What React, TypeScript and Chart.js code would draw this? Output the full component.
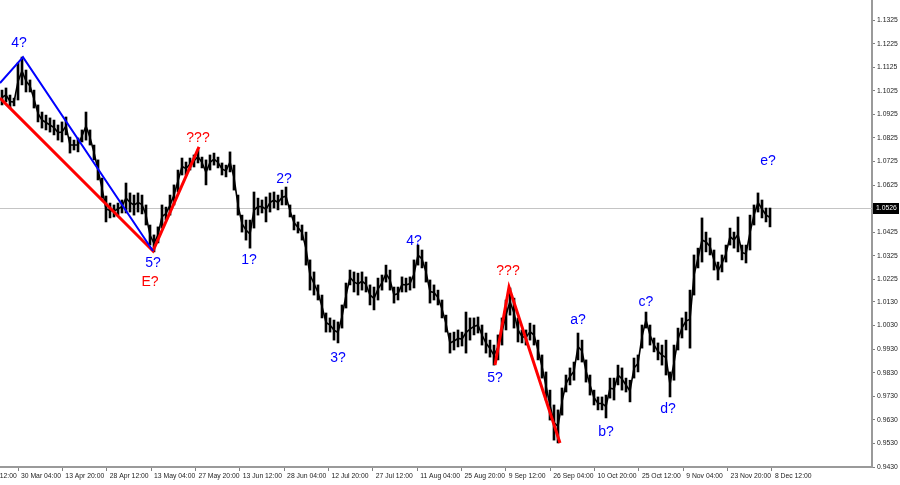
import React, { useEffect, useRef } from 'react';
import { Chart, registerables } from 'chart.js';

Chart.register(...registerables);

// ---- data ----
const dateLabels = [
  '15 Mar 12:00', '30 Mar 04:00', '13 Apr 20:00', '28 Apr 12:00', '13 May 04:00',
  '27 May 20:00', '13 Jun 12:00', '28 Jun 04:00', '12 Jul 20:00', '27 Jul 12:00',
  '11 Aug 04:00', '25 Aug 20:00', '9 Sep 12:00', '26 Sep 04:00', '10 Oct 20:00',
  '25 Oct 12:00', '9 Nov 04:00', '23 Nov 20:00', '8 Dec 12:00',
];

const priceTickLabels = [
  '1.1325', '1.1225', '1.1125', '1.1025', '1.0925', '1.0825', '1.0725', '1.0625',
  '1.0425', '1.0325', '1.0225', '1.0130', '1.0030', '0.9930', '0.9830', '0.9730',
  '0.9630', '0.9530', '0.9430',
];

const barHigh = [
  1.1028, 1.1037, 1.1007, 1.0994, 1.1143, 1.1168, 1.1113, 1.1071, 1.1028, 1.0965,
  1.0935, 1.0922, 1.0910, 1.0901, 1.0880, 1.0893, 1.0914, 1.0829, 1.0816, 1.0825,
  1.0859, 1.0935, 1.0859, 1.0795, 1.0732, 1.0655, 1.0579, 1.0549, 1.0541, 1.0549,
  1.0562, 1.0634, 1.0592, 1.0583, 1.0592, 1.0583, 1.0541, 1.0456, 1.0414, 1.0448,
  1.0541, 1.0532, 1.0583, 1.0626, 1.0689, 1.0740, 1.0723, 1.0740, 1.0753, 1.0774,
  1.0744, 1.0732, 1.0753, 1.0761, 1.0744, 1.0719, 1.0710, 1.0766, 1.0710, 1.0583,
  1.0498, 1.0477, 1.0477, 1.0596, 1.0570, 1.0562, 1.0575, 1.0592, 1.0596, 1.0583,
  1.0604, 1.0617, 1.0541, 1.0498, 1.0469, 1.0456, 1.0426, 1.0308, 1.0257, 1.0202,
  1.0159, 1.0083, 1.0062, 1.0053, 1.0045, 1.0117, 1.0210, 1.0265, 1.0257, 1.0252,
  1.0257, 1.0236, 1.0202, 1.0193, 1.0231, 1.0244, 1.0286, 1.0265, 1.0193, 1.0193,
  1.0236, 1.0231, 1.0236, 1.0308, 1.0371, 1.0350, 1.0299, 1.0223, 1.0202, 1.0180,
  1.0138, 1.0074, 0.9998, 1.0002, 1.0011, 1.0002, 1.0087, 1.0062, 1.0062, 1.0066,
  1.0032, 0.9998, 0.9968, 0.9947, 0.9990, 1.0062, 1.0138, 1.0189, 1.0146, 1.0062,
  1.0011, 1.0011, 1.0040, 1.0032, 0.9968, 0.9905, 0.9833, 0.9756, 0.9693, 0.9672,
  0.9765, 0.9820, 0.9850, 0.9875, 0.9998, 0.9968, 0.9884, 0.9820, 0.9756, 0.9727,
  0.9727, 0.9735, 0.9807, 0.9807, 0.9862, 0.9850, 0.9807, 0.9798, 0.9892, 0.9905,
  1.0032, 1.0087, 1.0032, 0.9977, 0.9956, 0.9947, 0.9968, 0.9833, 0.9947, 1.0019,
  1.0062, 1.0087, 1.0180, 1.0329, 1.0358, 1.0486, 1.0426, 1.0401, 1.0350, 1.0299,
  1.0329, 1.0371, 1.0443, 1.0426, 1.0490, 1.0371, 1.0371, 1.0498, 1.0541, 1.0592,
  1.0562, 1.0528, 1.0528,
];

const barLow = [
  1.0965, 1.0978, 1.0952, 1.0961, 1.0986, 1.1050, 1.1020, 1.1020, 1.0952, 1.0893,
  1.0867, 1.0859, 1.0850, 1.0838, 1.0816, 1.0808, 1.0838, 1.0761, 1.0774, 1.0766,
  1.0808, 1.0816, 1.0795, 1.0732, 1.0647, 1.0570, 1.0469, 1.0486, 1.0490, 1.0498,
  1.0507, 1.0507, 1.0511, 1.0498, 1.0511, 1.0503, 1.0456, 1.0371, 1.0342, 1.0380,
  1.0443, 1.0477, 1.0498, 1.0541, 1.0596, 1.0668, 1.0668, 1.0689, 1.0702, 1.0719,
  1.0698, 1.0626, 1.0689, 1.0710, 1.0698, 1.0668, 1.0660, 1.0681, 1.0604, 1.0498,
  1.0426, 1.0392, 1.0358, 1.0443, 1.0498, 1.0507, 1.0469, 1.0511, 1.0528, 1.0520,
  1.0541, 1.0541, 1.0490, 1.0435, 1.0422, 1.0392, 1.0286, 1.0180, 1.0159, 1.0138,
  1.0062, 1.0002, 1.0002, 0.9968, 0.9956, 1.0019, 1.0104, 1.0202, 1.0172, 1.0159,
  1.0180, 1.0172, 1.0117, 1.0096, 1.0138, 1.0180, 1.0214, 1.0180, 1.0125, 1.0138,
  1.0172, 1.0172, 1.0180, 1.0189, 1.0286, 1.0274, 1.0214, 1.0125, 1.0138, 1.0117,
  1.0062, 1.0002, 0.9913, 0.9926, 0.9939, 0.9943, 0.9913, 0.9968, 0.9990, 0.9998,
  0.9947, 0.9913, 0.9896, 0.9862, 0.9884, 0.9947, 1.0011, 1.0074, 1.0019, 0.9960,
  0.9956, 0.9947, 0.9968, 0.9947, 0.9884, 0.9807, 0.9714, 0.9629, 0.9544, 0.9532,
  0.9650, 0.9748, 0.9778, 0.9798, 0.9884, 0.9875, 0.9790, 0.9735, 0.9693, 0.9672,
  0.9672, 0.9638, 0.9722, 0.9714, 0.9778, 0.9756, 0.9748, 0.9706, 0.9807, 0.9833,
  0.9934, 1.0019, 0.9947, 0.9918, 0.9884, 0.9862, 0.9820, 0.9727, 0.9798, 0.9926,
  0.9977, 1.0011, 0.9934, 1.0159, 1.0274, 1.0299, 1.0342, 1.0329, 1.0265, 1.0223,
  1.0257, 1.0299, 1.0371, 1.0358, 1.0342, 1.0308, 1.0295, 1.0350, 1.0456, 1.0511,
  1.0486, 1.0469, 1.0448,
];

const currentPrice = 1.0526;

// wave lines (bar index, price)
const blueWaveBars = [-0.5, 5.25, 37.75];
const blueWavePrices = [1.1058, 1.1168, 1.0346];
const redWaveABars = [-0.5, 37.75, 49.25];
const redWaveAPrices = [1.0994, 1.0346, 1.0787];
const redWaveBBars = [123.25, 126.75, 139.5];
const redWaveBPrices = [0.9862, 1.0193, 0.9532];

// wave labels
const waveLabelText = ['4?', '???', '5?', 'E?', '1?', '2?', '3?', '4?', '???', '5?', 'a?', 'b?', 'c?', 'd?', 'e?'];
const waveLabelBar = [4.25, 49, 37.75, 37, 61.75, 70.5, 84, 103, 126.5, 123.25, 144, 151, 161, 166.5, 191.5];
const waveLabelPrice = [1.1228, 1.0825, 1.0295, 1.0214, 1.0308, 1.0651, 0.9892, 1.0388, 1.0261, 0.9807, 1.0053, 0.9578, 1.0130, 0.9676, 1.0727];
const waveLabelIsRed = [false, true, false, true, false, false, false, false, true, false, false, false, false, false, false];

// ---- axis setup ----
const priceMin = 0.943;
const priceMax = 1.141;
const barIndexMin = -0.5;
const barIndexMax = 217.5;
const dateTickStart = -7.0875;
const dateTickStep = 11.0875;

const BLUE = '#0000ff';
const RED = '#ff0000';
const AXIS_FONT = { family: "'Liberation Sans', Arial, sans-serif", size: 6.8 };

const toPoints = (xs: number[], ys: number[]) => xs.map((x, i) => ({ x, y: ys[i] }));

const overlayPlugin = {
  id: 'mtOverlay',
  beforeDatasetsDraw(chart: any) {
    const { ctx, chartArea, scales } = chart;
    const y = Math.round(scales.y.getPixelForValue(currentPrice)) + 0.5;
    ctx.save();
    ctx.strokeStyle = '#c4c4c4';
    ctx.lineWidth = 1;
    ctx.beginPath();
    ctx.moveTo(chartArea.left, y);
    ctx.lineTo(chartArea.right, y);
    ctx.stroke();
    ctx.restore();
  },
  afterDatasetsDraw(chart: any) {
    const { ctx, scales } = chart;
    ctx.save();
    ctx.font = "14px 'Liberation Sans', Arial, sans-serif";
    ctx.textAlign = 'center';
    ctx.textBaseline = 'middle';
    waveLabelText.forEach((t, i) => {
      ctx.fillStyle = waveLabelIsRed[i] ? RED : BLUE;
      ctx.fillText(t, scales.x.getPixelForValue(waveLabelBar[i]), scales.y.getPixelForValue(waveLabelPrice[i]));
    });
    ctx.restore();
  },
  afterDraw(chart: any) {
    const { ctx, chartArea, scales } = chart;
    const y = Math.round(scales.y.getPixelForValue(currentPrice));
    ctx.save();
    ctx.fillStyle = '#000';
    ctx.fillRect(chartArea.right + 1, y - 5, 26, 11);
    ctx.fillStyle = '#fff';
    ctx.font = `${AXIS_FONT.size}px ${AXIS_FONT.family}`;
    ctx.textAlign = 'left';
    ctx.textBaseline = 'middle';
    ctx.fillText(currentPrice.toFixed(4), chartArea.right + 4, y + 0.5);
    ctx.restore();
  },
};

export default function App() {
  const canvasRef = useRef<HTMLCanvasElement | null>(null);

  useEffect(() => {
    const canvas = canvasRef.current;
    if (!canvas) return;
    const chart = new Chart(canvas, {
      type: 'bar',
      data: {
        datasets: [
          {
            type: 'line',
            data: toPoints(blueWaveBars, blueWavePrices),
            borderColor: BLUE,
            borderWidth: 2,
            pointRadius: 0,
            tension: 0,
            order: 0,
          } as any,
          {
            type: 'line',
            data: toPoints(redWaveABars, redWaveAPrices),
            borderColor: RED,
            borderWidth: 3,
            pointRadius: 0,
            tension: 0,
            order: 0,
          } as any,
          {
            type: 'line',
            data: toPoints(redWaveBBars, redWaveBPrices),
            borderColor: RED,
            borderWidth: 3,
            pointRadius: 0,
            tension: 0,
            order: 0,
          } as any,
          {
            type: 'line',
            data: barHigh.map((h, i) => ({ x: i, y: (h + barLow[i]) / 2 })),
            borderColor: '#000',
            borderWidth: 1.6,
            pointRadius: 0,
            tension: 0,
            order: 1,
          } as any,
          {
            type: 'bar',
            data: barHigh.map((h, i) => ({ x: i, y: [barLow[i], h] })),
            backgroundColor: '#000',
            borderWidth: 0,
            barThickness: 2,
            grouped: false,
            order: 2,
          } as any,
        ],
      },
      options: {
        responsive: false,
        animation: false,
        layout: { padding: 0 },
        plugins: { legend: { display: false }, tooltip: { enabled: false } },
        scales: {
          x: {
            type: 'linear',
            position: 'bottom',
            offset: false,
            min: barIndexMin,
            max: barIndexMax,
            afterBuildTicks: (s: any) => {
              s.ticks = dateLabels.map((_, k) => ({ value: dateTickStart + k * dateTickStep }));
            },
            afterFit: (s: any) => {
              s.height = 18;
              s.paddingLeft = 0;
              s.paddingRight = 0;
            },
            ticks: {
              autoSkip: false,
              maxRotation: 0,
              minRotation: 0,
              align: 'start',
              labelOffset: 3,
              padding: 1,
              color: '#222',
              font: AXIS_FONT,
              callback: (_v: any, i: number) => dateLabels[i],
            },
            grid: { offset: false, drawOnChartArea: false, drawTicks: true, tickLength: 4, color: '#808080' },
            border: { display: true, color: '#9a9a9a', width: 2 },
          },
          y: {
            type: 'linear',
            position: 'right',
            min: priceMin,
            max: priceMax,
            afterBuildTicks: (s: any) => {
              s.ticks = priceTickLabels.map((t) => ({ value: parseFloat(t) }));
            },
            afterFit: (s: any) => {
              s.width = 28;
              s.paddingTop = 0;
              s.paddingBottom = 0;
            },
            ticks: {
              autoSkip: false,
              padding: 2,
              color: '#222',
              font: AXIS_FONT,
              callback: (_v: any, i: number) => priceTickLabels[i],
            },
            grid: { drawOnChartArea: false, drawTicks: true, tickLength: 3, color: '#808080' },
            border: { display: true, color: '#9a9a9a', width: 2 },
          },
        },
      } as any,
      plugins: [overlayPlugin],
    });
    return () => chart.destroy();
  }, []);

  return (
    <div style={{ position: 'absolute', left: 0, top: 0, width: 900, height: 485, background: '#fff' }}>
      <canvas ref={canvasRef} width={900} height={485} style={{ display: 'block' }} />
    </div>
  );
}
